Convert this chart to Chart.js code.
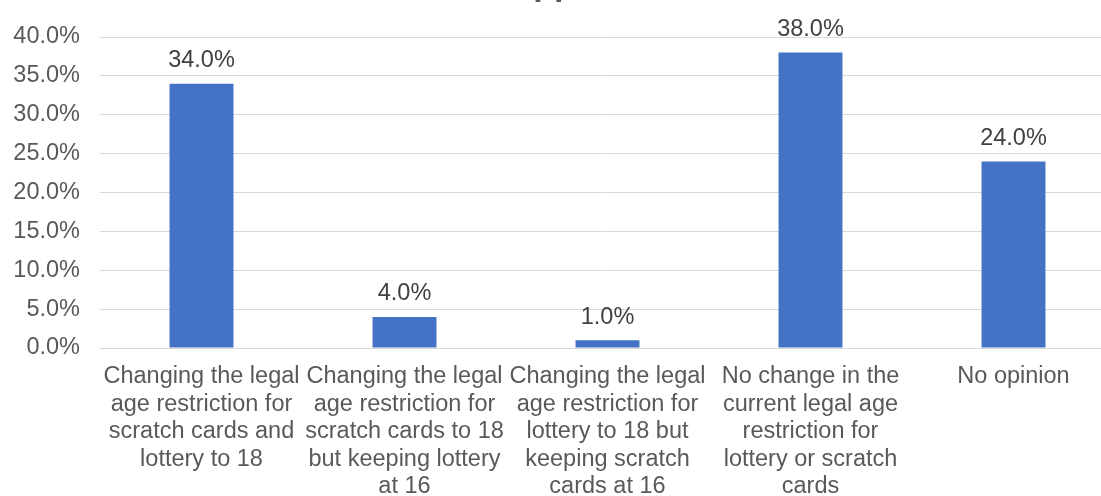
<!DOCTYPE html>
<html>
<head>
<meta charset="utf-8">
<script src="https://cdn.jsdelivr.net/npm/chart.js@4"></script>
<style>
    html, body { margin: 0; padding: 0; background: #ffffff; overflow: hidden; }
    #wrap { position: relative; width: 1116px; height: 496px; }
</style>
</head>
<body>
<div id="wrap"><canvas id="chart"></canvas></div>
<script>
// Chart data
const categories = [
    ["Changing the legal", "age restriction for", "scratch cards and", "lottery to 18"],
    ["Changing the legal", "age restriction for", "scratch cards to 18", "but keeping lottery", "at 16"],
    ["Changing the legal", "age restriction for", "lottery to 18 but", "keeping scratch", "cards at 16"],
    ["No change in the", "current legal age", "restriction for", "lottery or scratch", "cards"],
    ["No opinion"]
];
const supportValues = [34.0, 4.0, 1.0, 38.0, 24.0];
const chartTitle = "Support";

const fontFamily = "'Liberation Sans', Arial, sans-serif";
const axisColor = "#595959";
const barColor = "#4472C4";
const textSize = 23.5;

// Helper: draw value labels above each bar
const valueLabels = {
    id: "valueLabels",
    afterDatasetsDraw(chart) {
        const ctx = chart.ctx;
        const meta = chart.getDatasetMeta(0);
        ctx.save();
        ctx.font = textSize + "px " + fontFamily;
        ctx.fillStyle = "#404040";
        ctx.textAlign = "center";
        ctx.textBaseline = "middle";
        meta.data.forEach((bar, i) => {
            ctx.fillText(supportValues[i].toFixed(1) + "%", bar.x, bar.y - 23);
        });
        ctx.restore();
    }
};

// Title sits above the visible area, only its descenders show
const clippedTitle = {
    id: "clippedTitle",
    afterDraw(chart) {
        const ctx = chart.ctx;
        ctx.save();
        ctx.font = "bold 34px " + fontFamily;
        ctx.fillStyle = axisColor;
        ctx.textAlign = "center";
        ctx.textBaseline = "alphabetic";
        ctx.fillText(chartTitle, 555, -5);
        ctx.restore();
    }
};

const ctx = document.getElementById("chart").getContext("2d");
new Chart(ctx, {
    type: "bar",
    data: {
        labels: categories,
        datasets: [{
            label: chartTitle,
            data: supportValues,
            backgroundColor: barColor,
            borderWidth: 0,
            barPercentage: 0.315,
            categoryPercentage: 1.0
        }]
    },
    options: {
        responsive: true,
        maintainAspectRatio: false,
        animation: false,
        layout: { padding: { top: 37, right: 1, left: 0, bottom: 0 } },
        plugins: {
            legend: { display: false },
            tooltip: { enabled: false }
        },
        scales: {
            x: {
                grid: { display: false, drawTicks: false },
                border: { display: false },
                ticks: {
                    color: axisColor,
                    font: { family: fontFamily, size: textSize, lineHeight: 27.5 / textSize },
                    padding: 15,
                    maxRotation: 0,
                    minRotation: 0,
                    autoSkip: false
                },
                afterFit(scale) { scale.height = 148; }
            },
            y: {
                min: 0,
                max: 40,
                grid: { color: "#d9d9d9", lineWidth: 1, drawTicks: false },
                border: { display: false },
                ticks: {
                    stepSize: 5,
                    color: axisColor,
                    padding: 20,
                    font: { family: fontFamily, size: textSize },
                    callback: function (value) {
                        return value.toFixed(1) + "%";
                    }
                },
                afterFit(scale) { scale.width = 100; }
            }
        }
    },
    plugins: [valueLabels, clippedTitle]
});
</script>
</body>
</html>
